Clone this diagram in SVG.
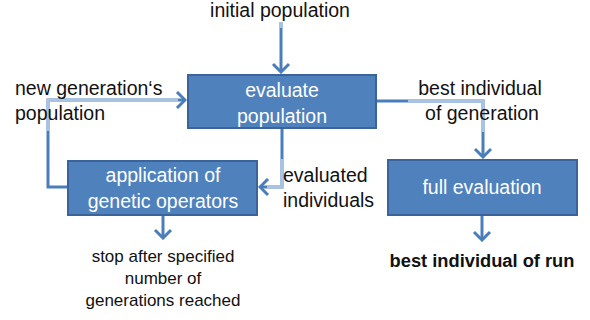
<svg xmlns="http://www.w3.org/2000/svg" width="590" height="320" viewBox="0 0 590 320">
<style>
.box{fill:#4F81BD;stroke:#3B659A;stroke-width:2}
.wt{fill:#fff;font-family:"Liberation Sans",Arial,sans-serif;font-size:19.5px;text-anchor:middle}
.lb{fill:#111;font-family:"Liberation Sans",Arial,sans-serif;font-size:19.5px}
.bd{fill:#111;font-family:"Liberation Sans",Arial,sans-serif;font-size:18.3px;font-weight:bold;text-anchor:middle}
.sm{fill:#111;font-family:"Liberation Sans",Arial,sans-serif;font-size:17px;text-anchor:middle}
.con{fill:none;stroke:#4A7EBB;stroke-width:3}
.halo{fill:none;stroke:#A9C3E2;stroke-width:3}
</style>
<defs>
<marker id="ah" viewBox="-10 -10 12 20" refX="0" refY="0" markerWidth="12" markerHeight="20" markerUnits="userSpaceOnUse" orient="auto">
<path d="M-8,-8 L0,0 L-8,8" fill="none" stroke="#4A7EBB" stroke-width="3"/>
</marker>
</defs>
<g id="connectors">
<path class="con" d="M281,22 V72" marker-end="url(#ah)"/>
<path class="halo" d="M281,22 V28"/>
<path class="con" d="M68,187 H48 V100 H185" marker-end="url(#ah)"/>
<path class="halo" d="M48,131 V100 H178"/>
<path class="con" d="M282,129 V187 H260" marker-end="url(#ah)"/>
<path class="halo" d="M282,159 V187 H267"/>
<path class="con" d="M377,101 H483 V157" marker-end="url(#ah)"/>
<path class="halo" d="M408,101 H483 V132"/>
<path class="con" d="M482,216 V240" marker-end="url(#ah)"/>
<path class="con" d="M163,216 V238" marker-end="url(#ah)"/>
</g>
<g id="initial"><text class="lb" x="280" y="17" text-anchor="middle">initial population</text></g>
<g id="evaluate">
<rect class="box" x="188" y="75" width="188" height="53"/>
<text class="wt" x="282" y="97">evaluate</text>
<text class="wt" x="282" y="123">population</text>
</g>
<g id="newgen">
<text class="lb" x="15" y="95">new generation‘s</text>
<text class="lb" x="15" y="120">population</text>
</g>
<g id="application">
<rect class="box" x="68" y="161" width="189" height="54"/>
<text class="wt" x="163" y="182">application of</text>
<text class="wt" x="163" y="208">genetic operators</text>
</g>
<g id="evaluated">
<text class="lb" x="283" y="182">evaluated</text>
<text class="lb" x="283" y="207">individuals</text>
</g>
<g id="bestgen">
<text class="lb" x="480" y="95" text-anchor="middle">best individual</text>
<text class="lb" x="482" y="120" text-anchor="middle">of generation</text>
</g>
<g id="full">
<rect class="box" x="388" y="160" width="189" height="55"/>
<text class="wt" x="482" y="194">full evaluation</text>
</g>
<g id="bestrun"><text class="bd" x="482" y="267">best individual of run</text></g>
<g id="stop">
<text class="sm" x="163" y="262">stop after specified</text>
<text class="sm" x="163" y="284">number of</text>
<text class="sm" x="163" y="306">generations reached</text>
</g>
</svg>
